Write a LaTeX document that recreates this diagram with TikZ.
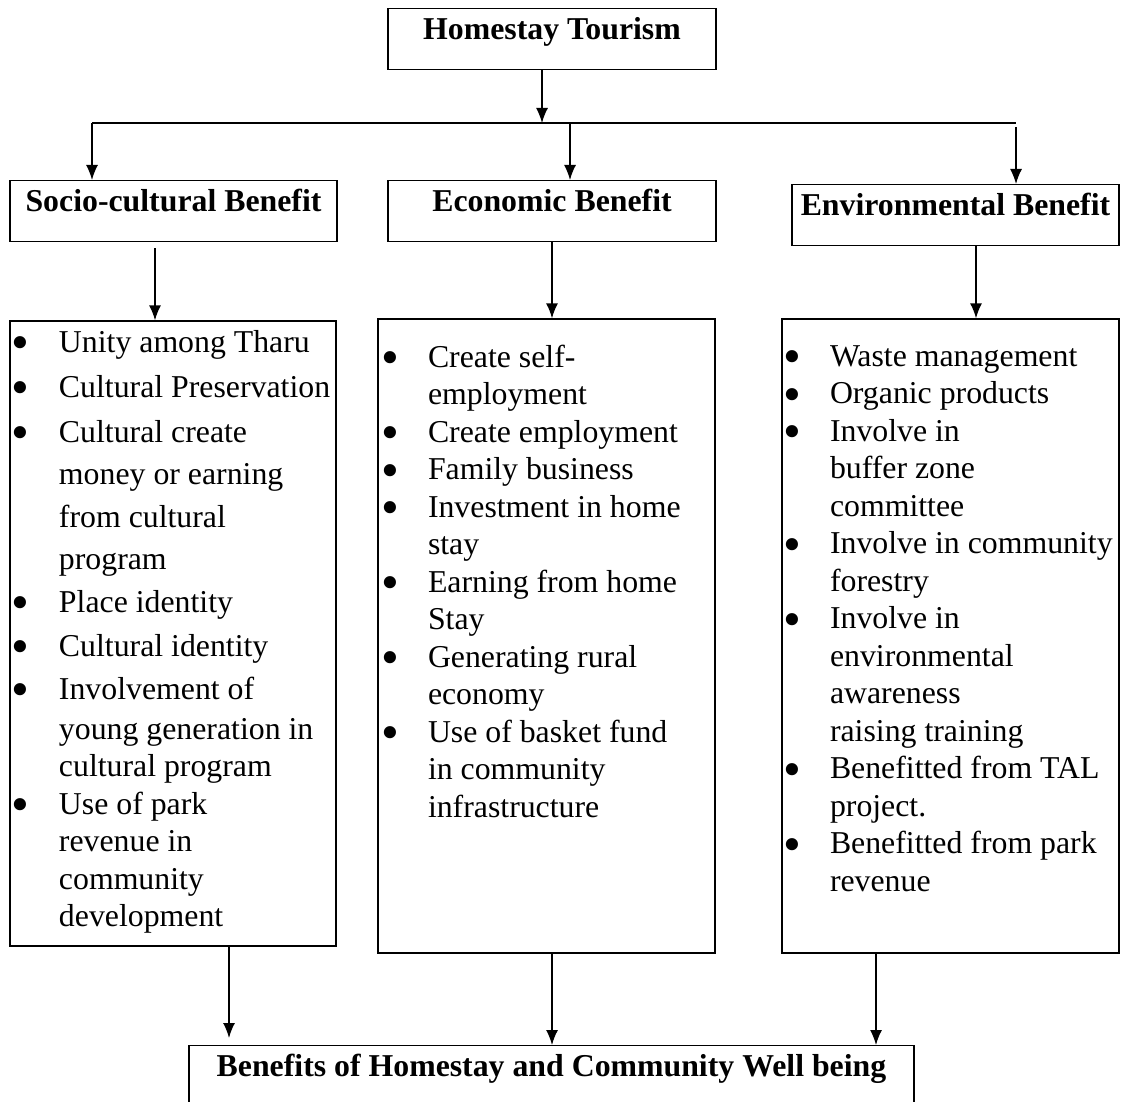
\documentclass[tikz,border=0pt]{standalone}
\usepackage{fontspec}
\setmainfont{Liberation Serif}
\usetikzlibrary{arrows.meta,positioning,calc}
\newcommand{\blt}{\smash{\raisebox{-7.5pt}{\scalebox{1.6}{\textbullet}}}}

\begin{document}
\begin{tikzpicture}[x=1pt, y=-1pt, line width=1.4pt, >={Latex[length=15pt,width=12pt]},
  font=\fontsize{31.8}{37.5}\selectfont,
  head/.style={draw, font=\fontsize{31.8}{37.5}\selectfont\bfseries, inner sep=0pt, text height=31pt, text depth=30pt, anchor=north},
  listbox/.style={draw, inner sep=0pt},
  items/.style={inner sep=0pt, anchor=base west}]
\useasboundingbox (0,0) rectangle (1121,1102);
\clip (0,0) rectangle (1121,1102);
\node[head, minimum width=328pt] (top) at (552,8) {Homestay Tourism};
\node[head, minimum width=327pt] (soc) at (173.5,180) {Socio-cultural Benefit};
\node[head, minimum width=328pt] (eco) at (552,180) {Economic Benefit};
\node[head, minimum width=327pt] (env) at (955.5,184) {Environmental Benefit};
\node[listbox, minimum width=326pt, minimum height=625pt] (socL) at (173,633.5) {};
\node[listbox, minimum width=337pt, minimum height=634pt] (ecoL) at (546.5,636) {};
\node[listbox, minimum width=337pt, minimum height=634pt] (envL) at (950.5,636) {};
\node[items] (socT) at ([xshift=2pt,yshift=-32pt]socL.north west) {\begin{tabular}[t]{@{}p{47pt}@{}l@{}}
\blt & Unity among Tharu\\[7.5pt]
\blt & Cultural Preservation\\[7.5pt]
\blt & Cultural create\\[4.5pt]
 & money or earning\\[5.5pt]
 & from cultural\\[4.5pt]
 & program\\[5.5pt]
\blt & Place identity\\[6.5pt]
\blt & Cultural identity\\[5.5pt]
\blt & Involvement of\\[2.5pt]
 & young generation in\\
 & cultural program\\
\blt & Use of park\\
 & revenue in\\
 & community\\
 & development
\end{tabular}};
\node[items] (ecoT) at ([xshift=3pt,yshift=-49pt]ecoL.north west) {\begin{tabular}[t]{@{}p{47pt}@{}l@{}}
\blt & Create self-\\
 & employment\\
\blt & Create employment\\
\blt & Family business\\
\blt & Investment in home\\
 & stay\\
\blt & Earning from home\\
 & Stay\\
\blt & Generating rural\\
 & economy\\
\blt & Use of basket fund\\
 & in community\\
 & infrastructure
\end{tabular}};
\node[items] (envT) at ([xshift=1pt,yshift=-48pt]envL.north west) {\begin{tabular}[t]{@{}p{47pt}@{}l@{}}
\blt & Waste management\\
\blt & Organic products\\
\blt & Involve in\\
 & buffer zone\\
 & committee\\
\blt & Involve in community\\
 & forestry\\
\blt & Involve in\\
 & environmental\\
 & awareness\\
 & raising training\\
\blt & Benefitted from TAL\\
 & project.\\
\blt & Benefitted from park\\
 & revenue
\end{tabular}};
\node[head, minimum width=725pt, text depth=80pt] (wb) at (551.5,1045) {Benefits of Homestay and Community Well being};
\coordinate (hub) at (542,123);
\coordinate (bL) at (92,123);
\coordinate (bR) at (1016,123);
\draw[->] ([xshift=-10pt]top.south) -- (hub);
\draw (bL) -- (bR);
\draw[->] (bL) -- (bL |- soc.north);
\draw[->] ([xshift=18pt]eco.north |- hub) -- ([xshift=18pt]eco.north);
\draw[->] ([yshift=-4pt]bR) -- (bR |- env.north);
\draw[->] ([xshift=-18.5pt,yshift=-6pt]soc.south) -- ([xshift=-18.5pt]soc.south |- socL.north);
\draw[->] (eco.south) -- (eco.south |- ecoL.north);
\draw[->] ([xshift=20.5pt]env.south) -- ([xshift=20.5pt]env.south |- envL.north);
\draw[->, shorten >=7pt] ([xshift=56pt]socL.south) -- ([xshift=56pt]socL.south |- wb.north);
\draw[->] ([xshift=5.5pt]ecoL.south) -- ([xshift=5.5pt]ecoL.south |- wb.north);
\draw[->] ([xshift=-74.5pt]envL.south) -- ([xshift=-74.5pt]envL.south |- wb.north);
\end{tikzpicture}
\end{document}
